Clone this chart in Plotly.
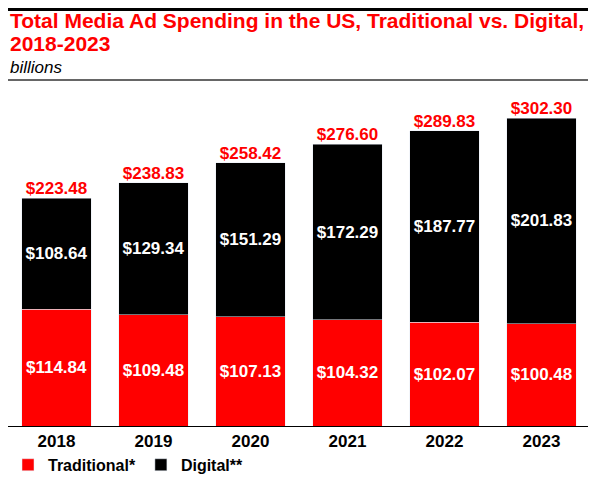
import plotly.graph_objects as go

years = ["2018", "2019", "2020", "2021", "2022", "2023"]
traditional = [114.84, 109.48, 107.13, 104.32, 102.07, 100.48]
digital = [108.64, 129.34, 151.29, 172.29, 187.77, 201.83]
totals = [223.48, 238.83, 258.42, 276.60, 289.83, 302.30]

RED = "#ff0000"
FONT = "Liberation Sans"

fig = go.Figure()
fig.add_trace(go.Bar(
    x=years, y=traditional, name="Traditional*", marker_color=RED,
    text=["$%.2f" % v for v in traditional], textposition="inside",
    insidetextanchor="middle",
    textfont=dict(color="white", size=17, family=FONT, weight="bold"),
))
fig.add_trace(go.Bar(
    x=years, y=digital, name="Digital**", marker_color="black",
    text=["$%.2f" % v for v in digital], textposition="inside",
    insidetextanchor="middle",
    textfont=dict(color="white", size=17, family=FONT, weight="bold"),
))
fig.add_trace(go.Scatter(
    x=years, y=totals, mode="text", showlegend=False,
    text=["$%.2f" % v for v in totals], textposition="top center",
    textfont=dict(color=RED, size=17, family=FONT, weight="bold"),
    cliponaxis=False, hoverinfo="skip",
))

# page body keeps its default 8px margin, so the figure is 8px smaller
fig.update_layout(
    barmode="stack",
    bargap=0.28,
    width=588, height=482,
    margin=dict(l=0, r=6, t=82, b=64),
    plot_bgcolor="white", paper_bgcolor="white",
    font=dict(family=FONT, color="black"),
    uniformtext=dict(mode="show", minsize=10),
    xaxis=dict(showline=True, linecolor="black", linewidth=1, automargin=False,
               tickfont=dict(size=17, weight="bold", color="black"),
               ticks="", showgrid=False),
    yaxis=dict(range=[0, 330], visible=False, showgrid=False, automargin=False),
    legend=dict(orientation="h", x=0, xanchor="left", y=-0.065, yanchor="top",
                font=dict(size=16, weight="bold", color="black"),
                traceorder="normal"),
    annotations=[
        dict(text="Total Media Ad Spending in the US, Traditional vs. Digital,",
             xref="paper", yref="paper", x=0, y=1.208, xanchor="left", yanchor="middle",
             showarrow=False,
             font=dict(size=21, color=RED, weight="bold", family=FONT)),
        dict(text="2018-2023",
             xref="paper", yref="paper", x=0, y=1.137, xanchor="left", yanchor="middle",
             showarrow=False,
             font=dict(size=21, color=RED, weight="bold", family=FONT)),
        dict(text="<i>billions</i>", xref="paper", yref="paper", x=0, y=1.066,
             xanchor="left", yanchor="middle", showarrow=False,
             font=dict(size=17, color="black", family=FONT)),
    ],
    shapes=[
        dict(type="line", xref="paper", yref="paper", x0=0, x1=1.0, y0=1.2396, y1=1.2396,
             line=dict(color="black", width=3)),
        dict(type="line", xref="paper", yref="paper", x0=0, x1=1.0, y0=1.0298, y1=1.0298,
             line=dict(color="#333333", width=1.5)),
    ],
)

fig.write_html("out.html", config={"displayModeBar": False})
